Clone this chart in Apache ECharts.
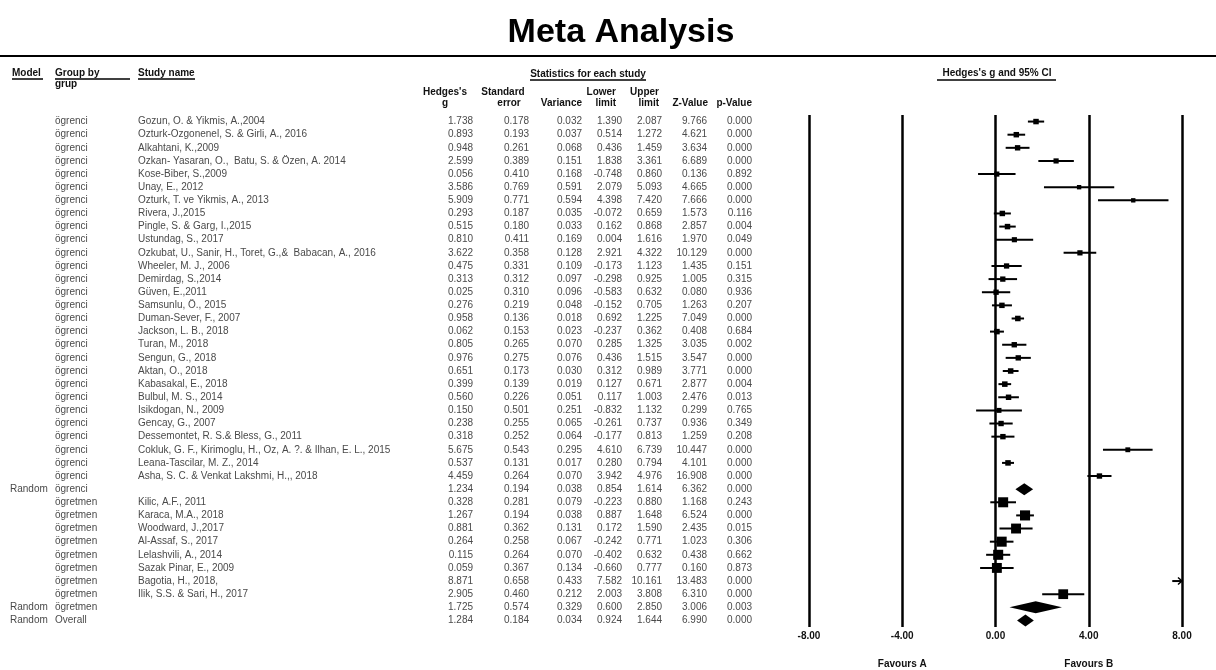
<!DOCTYPE html>
<html>
<head>
<meta charset="utf-8">
<title>Meta Analysis</title>
<script src="https://cdn.jsdelivr.net/npm/echarts@6/dist/echarts.min.js"></script>
<style>
  html, body { margin: 0; padding: 0; background: #fff; }
  #chart { width: 1216px; height: 670px; }
</style>
</head>
<body>
<div id="chart"></div>
<script>
// ---- Table data: one entry per row, top to bottom ----
const models = [
  '', '', '', '', '', '', '', '', '', '', '', '', '', '', '', '', '', '', '', '', '', '', '', '', '', '', '', '',
  'Random',
  '', '', '', '', '', '', '', '',
  'Random',
  'Random'
];

const groups = [
  'ögrenci', 'ögrenci', 'ögrenci', 'ögrenci', 'ögrenci', 'ögrenci', 'ögrenci', 'ögrenci', 'ögrenci', 'ögrenci',
  'ögrenci', 'ögrenci', 'ögrenci', 'ögrenci', 'ögrenci', 'ögrenci', 'ögrenci', 'ögrenci', 'ögrenci', 'ögrenci',
  'ögrenci', 'ögrenci', 'ögrenci', 'ögrenci', 'ögrenci', 'ögrenci', 'ögrenci', 'ögrenci',
  'ögrenci',
  'ögretmen', 'ögretmen', 'ögretmen', 'ögretmen', 'ögretmen', 'ögretmen', 'ögretmen', 'ögretmen',
  'ögretmen',
  'Overall'
];

const studyNames = [
  'Gozun, O. & Yikmis, A.,2004',
  'Ozturk-Ozgonenel, S. & Girli, A., 2016',
  'Alkahtani, K.,2009',
  'Ozkan- Yasaran, O.,  Batu, S. & Özen, A. 2014',
  'Kose-Biber, S.,2009',
  'Unay, E., 2012',
  'Ozturk, T. ve Yikmis, A., 2013',
  'Rivera, J.,2015',
  'Pingle, S. & Garg, I.,2015',
  'Ustundag, S., 2017',
  'Ozkubat, U., Sanir, H., Toret, G.,&  Babacan, A., 2016',
  'Wheeler, M. J., 2006',
  'Demirdag, S.,2014',
  'Güven, E.,2011',
  'Samsunlu, Ö., 2015',
  'Duman-Sever, F., 2007',
  'Jackson, L. B., 2018',
  'Turan, M., 2018',
  'Sengun, G., 2018',
  'Aktan, O., 2018',
  'Kabasakal, E., 2018',
  'Bulbul, M. S., 2014',
  'Isikdogan, N., 2009',
  'Gencay, G., 2007',
  'Dessemontet, R. S.& Bless, G., 2011',
  'Cokluk, G. F., Kirimoglu, H., Oz, A. ?. & Ilhan, E. L., 2015',
  'Leana-Tascilar, M. Z., 2014',
  'Asha, S. C. & Venkat Lakshmi, H.,, 2018',
  '',
  'Kilic, A.F., 2011',
  'Karaca, M.A., 2018',
  'Woodward, J.,2017',
  'Al-Assaf, S., 2017',
  'Lelashvili, A., 2014',
  'Sazak Pinar, E., 2009',
  'Bagotia, H., 2018,',
  'Ilik, S.S. & Sari, H., 2017',
  '',
  ''
];

const hedgesG = [
  1.738, 0.893, 0.948, 2.599, 0.056, 3.586, 5.909, 0.293, 0.515, 0.810,
  3.622, 0.475, 0.313, 0.025, 0.276, 0.958, 0.062, 0.805, 0.976, 0.651,
  0.399, 0.560, 0.150, 0.238, 0.318, 5.675, 0.537, 4.459,
  1.234,
  0.328, 1.267, 0.881, 0.264, 0.115, 0.059, 8.871, 2.905,
  1.725,
  1.284
];

const stdErr = [
  0.178, 0.193, 0.261, 0.389, 0.410, 0.769, 0.771, 0.187, 0.180, 0.411,
  0.358, 0.331, 0.312, 0.310, 0.219, 0.136, 0.153, 0.265, 0.275, 0.173,
  0.139, 0.226, 0.501, 0.255, 0.252, 0.543, 0.131, 0.264,
  0.194,
  0.281, 0.194, 0.362, 0.258, 0.264, 0.367, 0.658, 0.460,
  0.574,
  0.184
];

const variance = [
  0.032, 0.037, 0.068, 0.151, 0.168, 0.591, 0.594, 0.035, 0.033, 0.169,
  0.128, 0.109, 0.097, 0.096, 0.048, 0.018, 0.023, 0.070, 0.076, 0.030,
  0.019, 0.051, 0.251, 0.065, 0.064, 0.295, 0.017, 0.070,
  0.038,
  0.079, 0.038, 0.131, 0.067, 0.070, 0.134, 0.433, 0.212,
  0.329,
  0.034
];

const lowerLimit = [
  1.390, 0.514, 0.436, 1.838, -0.748, 2.079, 4.398, -0.072, 0.162, 0.004,
  2.921, -0.173, -0.298, -0.583, -0.152, 0.692, -0.237, 0.285, 0.436, 0.312,
  0.127, 0.117, -0.832, -0.261, -0.177, 4.610, 0.280, 3.942,
  0.854,
  -0.223, 0.887, 0.172, -0.242, -0.402, -0.660, 7.582, 2.003,
  0.600,
  0.924
];

const upperLimit = [
  2.087, 1.272, 1.459, 3.361, 0.860, 5.093, 7.420, 0.659, 0.868, 1.616,
  4.322, 1.123, 0.925, 0.632, 0.705, 1.225, 0.362, 1.325, 1.515, 0.989,
  0.671, 1.003, 1.132, 0.737, 0.813, 6.739, 0.794, 4.976,
  1.614,
  0.880, 1.648, 1.590, 0.771, 0.632, 0.777, 10.161, 3.808,
  2.850,
  1.644
];

const zValue = [
  9.766, 4.621, 3.634, 6.689, 0.136, 4.665, 7.666, 1.573, 2.857, 1.970,
  10.129, 1.435, 1.005, 0.080, 1.263, 7.049, 0.408, 3.035, 3.547, 3.771,
  2.877, 2.476, 0.299, 0.936, 1.259, 10.447, 4.101, 16.908,
  6.362,
  1.168, 6.524, 2.435, 1.023, 0.438, 0.160, 13.483, 6.310,
  3.006,
  6.990
];

const pValue = [
  0.000, 0.000, 0.000, 0.000, 0.892, 0.000, 0.000, 0.116, 0.004, 0.049,
  0.000, 0.151, 0.315, 0.936, 0.207, 0.000, 0.684, 0.002, 0.000, 0.000,
  0.004, 0.013, 0.765, 0.349, 0.208, 0.000, 0.000, 0.000,
  0.000,
  0.243, 0.000, 0.015, 0.306, 0.662, 0.873, 0.000, 0.000,
  0.003,
  0.000
];

const xTicks = [-8, -4, 0, 4, 8];
const favourLabels = { '-4': 'Favours A', '4': 'Favours B' };

// ---- Layout ----
const FONT = '"Liberation Sans", Arial, sans-serif';
const GRID_LEFT = 809, GRID_RIGHT = 34, GRID_TOP = 115, GRID_BOTTOM = 43;
const X_MIN = -8, X_MAX = 8;
const SQUARE_SCALE = 28;       // square side (px) for a study holding all of its subgroup's weight
const DIAMOND_HALF = 6;
const nRows = studyNames.length;
const rowKeys = studyNames.map((_, i) => 'r' + i);

// Random-effects (DerSimonian-Laird) relative weight of each study inside its subgroup
function squareSizes() {
  const sizes = new Array(nRows).fill(0);
  const byGroup = {};
  for (let i = 0; i < nRows; i++) {
    if (models[i] === '') (byGroup[groups[i]] = byGroup[groups[i]] || []).push(i);
  }
  Object.values(byGroup).forEach(idx => {
    let sw = 0, swy = 0, sw2 = 0;
    idx.forEach(i => { const w = 1 / variance[i]; sw += w; swy += w * hedgesG[i]; sw2 += w * w; });
    const mean = swy / sw;
    let q = 0;
    idx.forEach(i => { q += (hedgesG[i] - mean) ** 2 / variance[i]; });
    const tau2 = Math.max(0, (q - (idx.length - 1)) / (sw - sw2 / sw));
    let total = 0;
    idx.forEach(i => { total += 1 / (variance[i] + tau2); });
    idx.forEach(i => { sizes[i] = SQUARE_SCALE * Math.sqrt((1 / (variance[i] + tau2)) / total); });
  });
  return sizes;
}
const sizes = squareSizes();

const forestData = rowKeys.map((_, i) => [
  i, hedgesG[i], lowerLimit[i], upperLimit[i], models[i] === 'Random' ? 1 : 0, sizes[i]
]);

function renderForest(params, api) {
  const row = api.value(0), g = api.value(1), lo = api.value(2), hi = api.value(3);
  const kind = api.value(4), size = api.value(5);
  const clampX = v => api.coord([Math.max(X_MIN, Math.min(X_MAX, v)), row])[0];
  const y = api.coord([0, row])[1];
  const children = [];
  if (kind === 1) {
    children.push({
      type: 'polygon',
      shape: { points: [[clampX(lo), y], [clampX(g), y - DIAMOND_HALF], [clampX(hi), y], [clampX(g), y + DIAMOND_HALF]] },
      style: { fill: '#000' }
    });
  } else {
    children.push({
      type: 'line',
      shape: { x1: clampX(lo), y1: y, x2: clampX(hi), y2: y },
      style: { stroke: '#000', lineWidth: 2 }
    });
    if (g >= X_MIN && g <= X_MAX) {
      const cx = clampX(g);
      children.push({
        type: 'rect',
        shape: { x: cx - size / 2, y: y - size / 2, width: size, height: size },
        style: { fill: '#000' }
      });
    } else {
      // effect lies beyond the axis: arrow at the edge
      const ex = clampX(g);
      const dir = g > X_MAX ? 1 : -1;
      children.push({
        type: 'polyline',
        shape: { points: [[ex - dir * 4, y - 3.5], [ex, y], [ex - dir * 4, y + 3.5]] },
        style: { stroke: '#000', lineWidth: 1.5, fill: null }
      });
    }
  }
  return { type: 'group', children };
}

// ---- Table columns drawn as extra category axes on the same rows ----
const f3 = v => v.toFixed(3);
const columns = [
  { text: models, x: 10, align: 'left' },
  { text: groups, x: 55, align: 'left' },
  { text: studyNames, x: 138, align: 'left' },
  { text: hedgesG.map(f3), x: 473, align: 'right' },
  { text: stdErr.map(f3), x: 529, align: 'right' },
  { text: variance.map(f3), x: 582, align: 'right' },
  { text: lowerLimit.map(f3), x: 622, align: 'right' },
  { text: upperLimit.map(f3), x: 662, align: 'right' },
  { text: zValue.map(f3), x: 707, align: 'right' },
  { text: pValue.map(f3), x: 752, align: 'right' }
];

const yAxes = [{
  type: 'category', gridIndex: 0, inverse: true, data: rowKeys,
  axisLine: { show: false }, axisTick: { show: false }, axisLabel: { show: false }, splitLine: { show: false }
}].concat(columns.map(col => ({
  type: 'category', gridIndex: 0, inverse: true, data: rowKeys,
  position: 'left', offset: GRID_LEFT - col.x,
  axisLine: { show: false }, axisTick: { show: false }, splitLine: { show: false },
  axisLabel: {
    interval: 0, margin: 0, align: col.align,
    fontFamily: FONT, fontSize: 10, color: '#4a4a4a',
    formatter: v => col.text[+String(v).slice(1)]
  }
})));

// ---- Header texts and rules ----
const hdrFont = 'bold 10px ' + FONT;
function hText(text, x, y, align) {
  return { type: 'text', x, y, style: { text, font: hdrFont, fill: '#111', align: align || 'left', verticalAlign: 'middle' } };
}
function rule(x1, x2, y, w) {
  return { type: 'line', shape: { x1, y1: y, x2, y2: y }, style: { stroke: '#000', lineWidth: w || 1.5 } };
}

const graphics = [
  { type: 'text', x: 621, y: 33, style: { text: 'Meta Analysis', font: 'bold 34px ' + FONT, fill: '#000', align: 'center', verticalAlign: 'middle' } },
  rule(0, 1216, 56, 2),
  hText('Model', 12, 73), rule(12, 43, 79),
  hText('Group by', 55, 73), rule(55, 130, 79), hText('grup', 55, 84),
  hText('Study name', 138, 73), rule(138, 195, 79),
  hText('Statistics for each study', 588, 74, 'center'), rule(530, 646, 80),
  hText('Hedges\'s', 445, 92, 'center'), hText('g', 445, 103, 'center'),
  hText('Standard', 503, 92, 'center'), hText('error', 509, 103, 'center'),
  hText('Variance', 582, 103, 'right'),
  hText('Lower', 616, 92, 'right'), hText('limit', 616, 103, 'right'),
  hText('Upper', 659, 92, 'right'), hText('limit', 659, 103, 'right'),
  hText('Z-Value', 708, 103, 'right'),
  hText('p-Value', 752, 103, 'right'),
  hText('Hedges\'s g and 95% CI', 997, 73, 'center'), rule(937, 1056, 80)
];

const chart = echarts.init(document.getElementById('chart'), null, { renderer: 'canvas' });
chart.setOption({
  animation: false,
  backgroundColor: '#fff',
  grid: [{ left: GRID_LEFT, right: GRID_RIGHT, top: GRID_TOP, bottom: GRID_BOTTOM, containLabel: false, outerBoundsMode: 'none' }],
  xAxis: [
    {
      type: 'value', gridIndex: 0, min: X_MIN, max: X_MAX, interval: 4,
      axisLine: { show: false }, axisTick: { show: false },
      splitLine: { show: true, lineStyle: { color: '#000', width: 2.5 } },
      axisLabel: {
        margin: 4, fontFamily: FONT, fontSize: 10, fontWeight: 'bold', color: '#111',
        formatter: v => xTicks.includes(v) ? v.toFixed(2) : ''
      }
    },
    {
      type: 'value', gridIndex: 0, position: 'bottom', offset: 32, min: X_MIN, max: X_MAX, interval: 4,
      axisLine: { show: false }, axisTick: { show: false }, splitLine: { show: false },
      axisLabel: {
        margin: 0, fontFamily: FONT, fontSize: 10, fontWeight: 'bold', color: '#111',
        formatter: v => favourLabels[String(v)] || ''
      }
    }
  ],
  yAxis: yAxes,
  graphic: graphics,
  series: [{
    type: 'custom',
    xAxisIndex: 0, yAxisIndex: 0,
    clip: false,
    renderItem: renderForest,
    encode: { x: [1, 2, 3], y: 0 },
    data: forestData
  }]
});
</script>
</body>
</html>
